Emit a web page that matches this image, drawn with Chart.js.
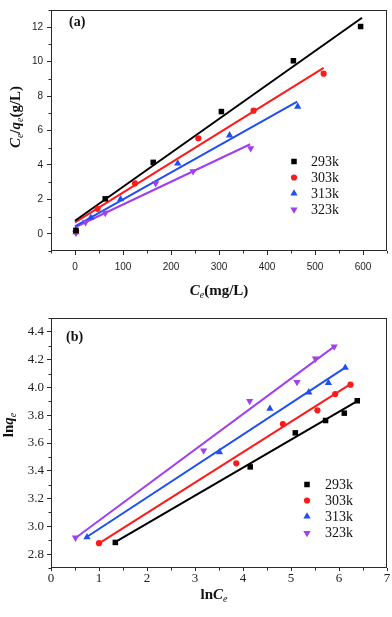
<!DOCTYPE html>
<html><head><meta charset="utf-8">
<script src="https://cdn.jsdelivr.net/npm/chart.js@4/dist/chart.umd.min.js"></script>
<style>
html,body{margin:0;padding:0;background:#fff;}
#wa{position:absolute;left:0;top:0;width:392px;height:300px;}
#wb{position:absolute;left:0;top:300px;width:392px;height:317px;}
</style></head><body>
<div id="wa"><canvas id="ca" width="392" height="300"></canvas></div>
<div id="wb"><canvas id="cb" width="392" height="317"></canvas></div>
<script>
// ---------- data (a): Ce/qe vs Ce ----------
const seriesNames = ['293k','303k','313k','323k'];
const aX293 = [2, 63, 163, 305, 455, 595];
const aY293 = [0.2, 2.03, 4.15, 7.1, 10.05, 12.04];
const aX303 = [2, 47, 125, 257, 372, 518];
const aY303 = [0.15, 1.45, 2.93, 5.55, 7.15, 9.3];
const aX313 = [2, 33, 95, 214, 322, 464];
const aY313 = [0.1, 0.94, 2.01, 4.09, 5.72, 7.39];
const aX323 = [2, 22, 63, 168, 246, 366];
const aY323 = [0.05, 0.66, 1.21, 2.93, 3.63, 4.97];
const aFit293X = [0, 598], aFit293Y = [0.76, 12.55];
const aFit303X = [0, 518], aFit303Y = [0.66, 9.64];
const aFit313X = [0, 463], aFit313Y = [0.43, 7.68];
const aFit323X = [0, 365], aFit323Y = [0.38, 5.2];
const aXTicks = [0, 100, 200, 300, 400, 500, 600];
const aXMinor = [-50, 50, 150, 250, 350, 450, 550, 650];
const aYTicks = [0, 2, 4, 6, 8, 10, 12];
const aYMinor = [-1, 1, 3, 5, 7, 9, 11, 13];

// ---------- data (b): lnqe vs lnCe ----------
const bX293 = [1.34, 4.15, 5.09, 5.72, 6.11, 6.38];
const bY293 = [2.884, 3.428, 3.673, 3.762, 3.815, 3.904];
const bX303 = [1.0, 3.86, 4.83, 5.55, 5.92, 6.24];
const bY303 = [2.879, 3.454, 3.736, 3.835, 3.952, 4.02];
const bX313 = [0.75, 3.51, 4.56, 5.37, 5.78, 6.13];
const bY313 = [2.922, 3.534, 3.847, 3.965, 4.032, 4.143];
const bX323 = [0.51, 3.18, 4.14, 5.125, 5.51, 5.9];
const bY323 = [2.918, 3.546, 3.902, 4.039, 4.207, 4.294];
const bFit293X = [1.30, 6.38], bFit293Y = [2.879, 3.902];
const bFit303X = [1.0, 6.23], bFit303Y = [2.877, 4.022];
const bFit313X = [0.72, 6.16], bFit313Y = [2.918, 4.15];
const bFit323X = [0.51, 5.92], bFit323Y = [2.916, 4.299];
const bXTicks = [0, 1, 2, 3, 4, 5, 6, 7];
const bXMinor = [0.5, 1.5, 2.5, 3.5, 4.5, 5.5, 6.5];
const bYTicks = [2.8, 3.0, 3.2, 3.4, 3.6, 3.8, 4.0, 4.2, 4.4];
const bYMinor = [2.7, 2.9, 3.1, 3.3, 3.5, 3.7, 3.9, 4.1, 4.3, 4.5];

// ---------- styling ----------
const colors = ['#000000', '#ff1a1a', '#1f4ff2', '#a03ff0'];
const pStyles = ['rect', 'circle', 'triangle', 'triangle'];
const pRot = [0, 0, 0, 180];
const pRad = [3.9, 3.1, 4.2, 4.2];
const AXC = '#2a2a2a';

function pts(xs, ys){ return xs.map((x,i)=>({x:x, y:ys[i]})); }

function buildDatasets(X, Y, FX, FY){
  const ds = [];
  for (let i=0;i<4;i++){
    ds.push({label:seriesNames[i], data:pts(X[i],Y[i]), showLine:false,
      pointStyle:pStyles[i], pointRotation:pRot[i], pointRadius:pRad[i],
      backgroundColor:colors[i], borderColor:colors[i], pointBorderWidth:0, order:0});
  }
  for (let i=0;i<4;i++){
    ds.push({label:'fit'+seriesNames[i], data:pts(FX[i],FY[i]), showLine:true,
      pointRadius:0, borderColor:colors[i], borderWidth:2, backgroundColor:colors[i], order:1});
  }
  return ds;
}

function drawRich(ctx, segs, cx, cy, rot){
  ctx.save();
  ctx.translate(cx, cy);
  if (rot) ctx.rotate(rot);
  let w = 0;
  segs.forEach(s=>{ ctx.font = s.f; s.w = ctx.measureText(s.t).width; w += s.w; });
  let x = -w/2;
  ctx.textBaseline = 'middle';
  ctx.textAlign = 'left';
  ctx.fillStyle = '#111';
  segs.forEach(s=>{ ctx.font = s.f; ctx.fillText(s.t, x, s.dy||0); x += s.w; });
  ctx.restore();
}

function drawMarker(ctx, i, x, y){
  ctx.save();
  ctx.fillStyle = colors[i];
  const r = pRad[i];
  ctx.beginPath();
  if (i===0){ const h = r*Math.SQRT1_2; ctx.rect(x-h, y-h, 2*h, 2*h); }
  else if (i===1){ ctx.arc(x, y, r, 0, Math.PI*2); }
  else {
    const s = (i===3) ? -1 : 1;
    ctx.moveTo(x, y - s*r);
    ctx.lineTo(x + r*Math.sin(Math.PI/3), y + s*r*0.5);
    ctx.lineTo(x - r*Math.sin(Math.PI/3), y + s*r*0.5);
    ctx.closePath();
  }
  ctx.fill();
  ctx.restore();
}

function makePlugin(cfg){
  return {
    id:'deco'+cfg.id,
    afterDraw(chart){
      const ctx = chart.ctx, ca = chart.chartArea;
      const xs = chart.scales.x, ys = chart.scales.y;
      ctx.save();
      // frame
      ctx.strokeStyle = AXC; ctx.lineWidth = 1;
      ctx.strokeRect(Math.round(ca.left)+0.5, Math.round(ca.top)+0.5,
        Math.round(ca.right-ca.left)-1, Math.round(ca.bottom-ca.top)-1);
      // minor ticks
      ctx.beginPath();
      cfg.xMinor.forEach(v=>{ const p = Math.round(xs.getPixelForValue(v))+0.5;
        ctx.moveTo(p, ca.bottom); ctx.lineTo(p, ca.bottom+2.5); });
      cfg.yMinor.forEach(v=>{ const p = Math.round(ys.getPixelForValue(v))+0.5;
        ctx.moveTo(ca.left, p); ctx.lineTo(ca.left-2.5, p); });
      ctx.stroke();
      ctx.restore();
      // titles
      drawRich(ctx, cfg.xTitle, cfg.xTitlePos[0], cfg.xTitlePos[1], 0);
      drawRich(ctx, cfg.yTitle, cfg.yTitlePos[0], cfg.yTitlePos[1], -Math.PI/2);
      // panel label
      ctx.save();
      ctx.font = 'bold 14px "Liberation Serif"';
      ctx.fillStyle = '#111'; ctx.textBaseline = 'middle'; ctx.textAlign = 'left';
      ctx.fillText(cfg.panel, cfg.panelPos[0], cfg.panelPos[1]);
      // legend
      ctx.font = '14px "Liberation Serif"';
      for (let i=0;i<4;i++){
        const y = cfg.legY[i];
        drawMarker(ctx, i, cfg.legMX, y);
        ctx.fillStyle = '#111';
        ctx.fillText(seriesNames[i], cfg.legTX, y+0.5);
      }
      ctx.restore();
    }
  };
}

function makeChart(id, cfg){
  const tickFont = cfg.tickFont;
  return new Chart(document.getElementById(id), {
    type:'scatter',
    data:{datasets:buildDatasets(cfg.X, cfg.Y, cfg.FX, cfg.FY)},
    options:{
      responsive:false, animation:false, devicePixelRatio:1,
      layout:{padding:{left:0, right:cfg.padR, top:cfg.padT, bottom:0}},
      plugins:{legend:{display:false}, tooltip:{enabled:false}},
      scales:{
        x:{type:'linear', min:cfg.xMin, max:cfg.xMax,
          afterBuildTicks:s=>{ s.ticks = cfg.xTicks.map(v=>({value:v})); },
          afterFit:s=>{ s.height = cfg.xAxisH; },
          grid:{drawOnChartArea:false, drawTicks:true, tickLength:cfg.xTickLen, tickColor:AXC, color:AXC},
          border:{display:false},
          ticks:{font:tickFont, color:'#222', padding:cfg.xPad, maxRotation:0, autoSkip:false,
            callback:v=>cfg.xFmt(v)}},
        y:{type:'linear', min:cfg.yMin, max:cfg.yMax,
          afterBuildTicks:s=>{ s.ticks = cfg.yTicks.map(v=>({value:v})); },
          afterFit:s=>{ s.width = 51; },
          grid:{drawOnChartArea:false, drawTicks:true, tickLength:4, tickColor:AXC, color:AXC},
          border:{display:false},
          ticks:{font:tickFont, color:'#222', padding:cfg.yPad, autoSkip:false,
            callback:v=>cfg.yFmt(v)}}
      }
    },
    plugins:[makePlugin(cfg)]
  });
}

const BI = 'bold italic 15px "Liberation Serif"';
const B = 'bold 15px "Liberation Serif"';
const SUB = 'italic 10px "Liberation Serif"';

makeChart('ca', {
  id:'a',
  X:[aX293,aX303,aX313,aX323], Y:[aY293,aY303,aY313,aY323],
  FX:[aFit293X,aFit303X,aFit313X,aFit323X], FY:[aFit293Y,aFit303Y,aFit313Y,aFit323Y],
  xMin:-50, xMax:650, yMin:-1, yMax:13,
  xTicks:aXTicks, yTicks:aYTicks, xMinor:aXMinor, yMinor:aYMinor,
  xFmt:v=>String(v), yFmt:v=>String(v),
  tickFont:{family:'Liberation Sans', size:10},
  padR:5, padT:1, xAxisH:49, xTickLen:4, xPad:6, yPad:4,
  xTitle:[{t:'C',f:BI},{t:'e',f:SUB,dy:4},{t:'(mg/L)',f:B}], xTitlePos:[219,291],
  yTitle:[{t:'C',f:BI},{t:'e',f:SUB,dy:4},{t:'/',f:B},{t:'q',f:BI},{t:'e',f:SUB,dy:4},{t:'(g/L)',f:B}], yTitlePos:[16,117],
  panel:'(a)', panelPos:[69,22],
  legMX:294, legTX:311, legY:[161.5,177.5,193.5,209.5]
});

makeChart('cb', {
  id:'b',
  X:[bX293,bX303,bX313,bX323], Y:[bY293,bY303,bY313,bY323],
  FX:[bFit293X,bFit303X,bFit313X,bFit323X], FY:[bFit293Y,bFit303Y,bFit313Y,bFit323Y],
  xMin:0, xMax:7, yMin:2.7, yMax:4.5,
  xTicks:bXTicks, yTicks:bYTicks, xMinor:bXMinor, yMinor:bYMinor,
  xFmt:v=>String(v), yFmt:v=>v.toFixed(1),
  tickFont:{family:'Liberation Serif', size:13},
  padR:5, padT:18, xAxisH:49, xTickLen:3, xPad:0, yPad:3,
  xTitle:[{t:'ln',f:B},{t:'C',f:BI},{t:'e',f:SUB,dy:4}], xTitlePos:[214,295],
  yTitle:[{t:'ln',f:B},{t:'q',f:BI},{t:'e',f:SUB,dy:4}], yTitlePos:[9,125],
  panel:'(b)', panelPos:[66,37],
  legMX:307, legTX:325, legY:[184.5,200.5,216.5,233]
});
</script>
</body></html>
